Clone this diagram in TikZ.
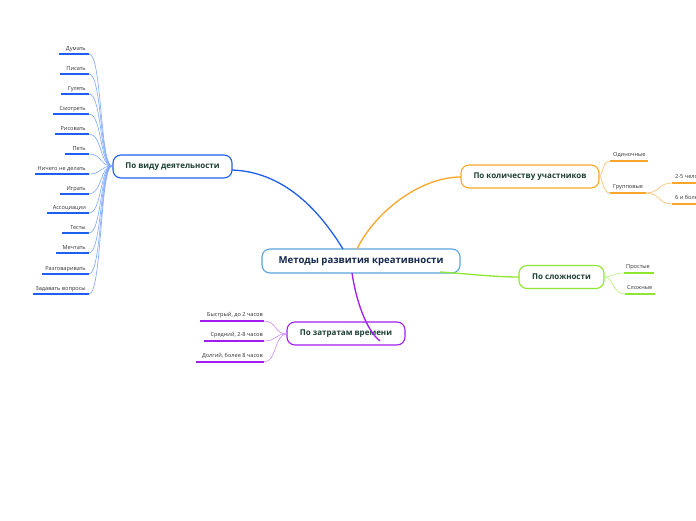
\documentclass[tikz,border=0pt]{standalone}
\usepackage{fontspec}
\setmainfont{Open Sans}
\begin{document}
\begin{tikzpicture}[x=1pt,y=-1pt,
  topic/.style={draw, rounded corners=8pt, line width=1.1pt, minimum height=23pt, inner xsep=8pt, font=\fontsize{8}{9}\selectfont\bfseries, text=txtdark},
  leaf/.style={inner sep=0pt, font=\fontsize{5.6}{6}\selectfont, text=black!80},
  ul/.style={line width=1.6pt},
  lcon/.style={line width=0.6pt},
  mcon/.style={line width=1.3pt}]
\definecolor{txtdark}{HTML}{1B3F35}
\definecolor{cblue}{HTML}{1F5FF0}
\definecolor{lblue}{HTML}{7DA8FF}
\definecolor{corange}{HTML}{F9A62B}
\definecolor{lorange}{HTML}{FBC06A}
\definecolor{cgreen}{HTML}{8EE630}
\definecolor{lgreen}{HTML}{B8F07A}
\definecolor{cpurple}{HTML}{A21EF0}
\definecolor{lpurple}{HTML}{CC8CF6}
\definecolor{ccentral}{HTML}{5BA3DC}
\useasboundingbox (0,0) rectangle (696,520);
\clip (0,0) rectangle (696,520);
\fill[white] (0,0) rectangle (696,520);

% main nodes
\node[topic, draw=ccentral, minimum width=198pt, minimum height=24pt, font=\fontsize{9.6}{11}\selectfont\bfseries, text={rgb,255:red,20;green,40;blue,75}] (c) at (361,261) {Методы развития креативности};
\node[topic, draw=cblue, minimum width=119pt] (blue) at (172.5,166.5) {По виду деятельности};
\node[topic, draw=corange, minimum width=138pt] (orange) at (530,176.5) {По количеству участников};
\node[topic, draw=cgreen, minimum width=85pt] (green) at (561.5,277) {По сложности};
\node[topic, draw=cpurple, minimum width=118pt] (purple) at (346,333.5) {По затратам времени};

% main connectors
\coordinate (cb) at (343,249);
\coordinate (co) at (357,249);
\coordinate (cg) at (440,272);
\coordinate (cp) at (352,273);
\coordinate (bb) at (232,170);
\coordinate (ob) at (461,177);
\coordinate (gb) at (519,277);
\coordinate (pb) at (380,341);
\draw[mcon, cblue] (bb) .. controls (290,172) and (325,220) .. (cb);
\draw[mcon, corange] (co) .. controls (375,212) and (420,177) .. (ob);
\draw[mcon, cgreen] (cg) .. controls (470,274) and (495,277) .. (gb);
\draw[mcon, cpurple] (cp) .. controls (356,300) and (366,330) .. (pb);

% blue leaves
\coordinate (bl) at (112,166);
\foreach \t/\y/\xl [count=\i] in {Думать/54/59, Писать/74/60, Гулять/94/61, Смотреть/114/53, Рисовать/134/55, Петь/154/65, Ничего не делать/174/35, Играть/194/60, Ассоциации/213/47, Тесты/233/62, Мечтать/253/56, Разговаривать/274/42, Задавать вопросы/294/33}{
  \coordinate (bu\i) at (\xl,\y);
  \coordinate (be\i) at (89,\y);
  \node[leaf, anchor=base east] (bt\i) at (86,\y-4) {\t};
  \draw[ul, cblue] (bu\i) -- (be\i);
  \draw[lcon, lblue] (be\i) .. controls (102,\y) and (100,166) .. (bl);
}

% purple leaves
\coordinate (pl) at (287,334);
\foreach \t/\y/\xl [count=\i] in {{Быстрый, до 2 часов}/321/200, {Средний, 2-8 часов}/341/204, {Долгий, более 8 часов}/362/196}{
  \coordinate (pu\i) at (\xl,\y);
  \coordinate (pe\i) at (264,\y);
  \node[leaf, anchor=base east] (pt\i) at (263,\y-5) {\t};
  \draw[ul, cpurple] (pu\i) -- (pe\i);
  \draw[lcon, lpurple] (pe\i) .. controls (277,\y) and (274,334) .. (pl);
}

% orange leaves
\coordinate (or) at (599,176);
\coordinate (ou1) at (610,161); \coordinate (oe1) at (648,161);
\coordinate (ou2) at (610,193); \coordinate (oe2) at (646,193);
\node[leaf, anchor=base west] (ot1) at (613,156) {Одиночные};
\node[leaf, anchor=base west] (ot2) at (613,188) {Групповые};
\draw[ul, corange] (ou1) -- (oe1);
\draw[ul, corange] (ou2) -- (oe2);
\draw[lcon, lorange] (or) .. controls (603,176) and (602,161) .. (ou1);
\draw[lcon, lorange] (or) .. controls (603,176) and (602,193) .. (ou2);
\coordinate (su1) at (672,183); \coordinate (se1) at (700,183);
\coordinate (su2) at (672,204); \coordinate (se2) at (700,204);
\node[leaf, anchor=base west] (st1) at (675,178) {2-5 человек};
\node[leaf, anchor=base west] (st2) at (675,199) {6 и более};
\draw[ul, corange] (su1) -- (se1);
\draw[ul, corange] (su2) -- (se2);
\draw[lcon, lorange] (oe2) .. controls (660,193) and (658,183) .. (su1);
\draw[lcon, lorange] (oe2) .. controls (660,193) and (658,204) .. (su2);

% green leaves
\coordinate (gr) at (604,277);
\coordinate (gu1) at (624,273); \coordinate (ge1) at (654,273);
\coordinate (gu2) at (625,294); \coordinate (ge2) at (655,294);
\node[leaf, anchor=base west] (gt1) at (626,268) {Простые};
\node[leaf, anchor=base west] (gt2) at (627,289) {Сложные};
\draw[ul, cgreen] (gu1) -- (ge1);
\draw[ul, cgreen] (gu2) -- (ge2);
\draw[lcon, lgreen] (gr) .. controls (612,277) and (614,273) .. (gu1);
\draw[lcon, lgreen] (gr) .. controls (614,277) and (612,294) .. (gu2);
\end{tikzpicture}
\end{document}
